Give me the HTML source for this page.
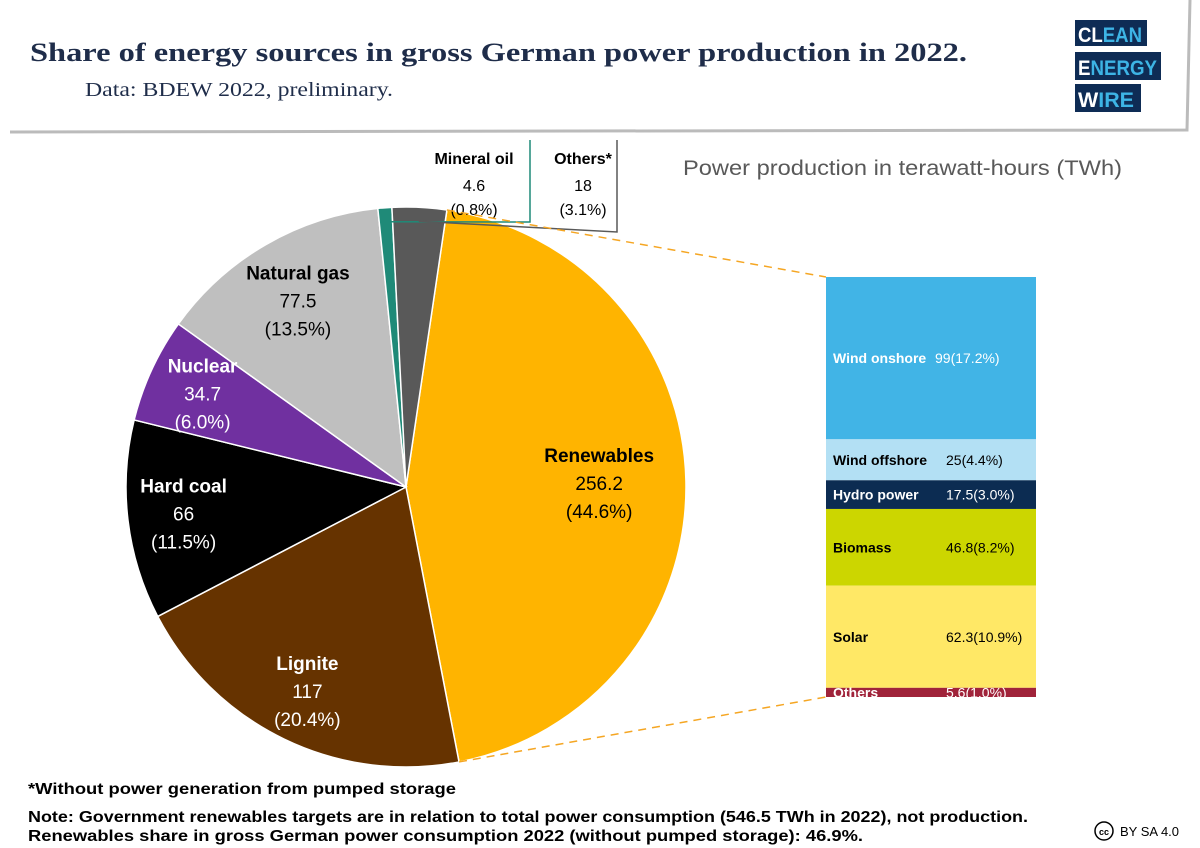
<!DOCTYPE html>
<html><head><meta charset="utf-8"><style>
body{margin:0;width:1200px;height:848px;background:#fff;overflow:hidden;font-family:"Liberation Sans",sans-serif}
svg{position:absolute;left:0;top:0}
</style></head><body>
<svg id="c" width="1200" height="848">
<polyline points="10,132 1187,130 1190,0" fill="none" stroke="#bbb" stroke-width="3"/>
<text x="30" y="61" font-family="Liberation Serif" font-weight="bold" font-size="26" fill="#1f2d4a" textLength="937" lengthAdjust="spacingAndGlyphs">Share of energy sources in gross German power production in 2022.</text>
<text x="85" y="96" font-family="Liberation Serif" font-size="20" fill="#1f2d4a" textLength="308" lengthAdjust="spacingAndGlyphs">Data: BDEW 2022, preliminary.</text>
<g font-weight="bold" font-size="21">
<rect x="1075" y="20" width="72" height="26" fill="#0e2c55"/><text x="1078" y="42" fill="#fff" textLength="64" lengthAdjust="spacingAndGlyphs">CL<tspan fill="#3db4e5">EAN</tspan></text>
<rect x="1075" y="52" width="86" height="28" fill="#0e2c55"/><text x="1078" y="75" fill="#fff" textLength="79" lengthAdjust="spacingAndGlyphs">E<tspan fill="#3db4e5">NERGY</tspan></text>
<rect x="1075" y="84" width="66" height="28" fill="#0e2c55"/><text x="1078" y="107" fill="#fff" textLength="56" lengthAdjust="spacingAndGlyphs">W<tspan fill="#3db4e5">IRE</tspan></text>
</g>
<text x="683" y="175" font-size="21" fill="#595959" textLength="439" lengthAdjust="spacingAndGlyphs">Power production in terawatt-hours (TWh)</text>
<g id="pie"></g>
<g id="bar"></g>
<text x="28" y="794" font-size="16" font-weight="bold" fill="#000" textLength="428" lengthAdjust="spacingAndGlyphs">*Without power generation from pumped storage</text>
<text x="28" y="822" font-size="16" font-weight="bold" fill="#000" textLength="1000" lengthAdjust="spacingAndGlyphs">Note: Government renewables targets are in relation to total power consumption (546.5 TWh in 2022), not production.</text>
<text x="28" y="841" font-size="16" font-weight="bold" fill="#000" textLength="835" lengthAdjust="spacingAndGlyphs">Renewables share in gross German power consumption 2022 (without pumped storage): 46.9%.</text>
<g><circle cx="1104" cy="831" r="9" fill="none" stroke="#000" stroke-width="1.5"/><text x="1104" y="835" font-size="9" font-weight="bold" text-anchor="middle">cc</text><text x="1120" y="836" font-size="13">BY SA 4.0</text></g>
</svg>
<script>
const pieLabels=["Renewables","Lignite","Hard coal","Nuclear","Natural gas","Mineral oil","Others*"];
const pieValues=[256.2,117,66,34.7,77.5,4.6,18];
const piePercents=["44.6%","20.4%","11.5%","6.0%","13.5%","0.8%","3.1%"];
const pieColors=["#ffb400","#663300","#000000","#7030a0","#bfbfbf","#1f8a78","#595959"];
const barLabels=["Wind onshore","Wind offshore","Hydro power","Biomass","Solar","Others"];
const barValues=[99,25,17.5,46.8,62.3,5.6];
const barPercents=["17.2%","4.4%","3.0%","8.2%","10.9%","1.0%"];
const barColors=["#41b4e6","#b3e0f4","#0c2c52","#ccd600","#ffe866","#a0233a"];
const NS="http://www.w3.org/2000/svg";
function mk(p,t,a){const e=document.createElementNS(NS,t);for(const k in a)e.setAttribute(k,a[k]);p.appendChild(e);return e;}
const cx=406,cy=487,R=280,start=8.4;
const tot=pieValues.reduce((a,b)=>a+b,0);
const pt=(deg,r)=>[cx+r*Math.sin(deg*Math.PI/180),cy-r*Math.cos(deg*Math.PI/180)];
const pie=document.getElementById('pie');
let a=start;const angs=[];
pieValues.forEach((v,i)=>{
 const s=a,e=a+v/tot*360;angs.push([s,e]);a=e;
 const p1=pt(s,R),p2=pt(e,R);
 const sl=mk(pie,'path',{d:`M${cx},${cy}L${p1[0]},${p1[1]}A${R},${R} 0 ${e-s>180?1:0} 1 ${p2[0]},${p2[1]}Z`,fill:pieColors[i],stroke:'#fff','stroke-width':1.5});
 
 
});
const inner=[0,1,2,3,4];
const txtColor=["#000","#fff","#fff","#fff","#000"];
const lr=[0.69,0.81,0.8,0.8,0.77];
inner.forEach(i=>{
 const m=(angs[i][0]+angs[i][1])/2;const p=pt(m,R*lr[i]);
 const g=mk(pie,'g',{});
 
 
 const c=txtColor[i];
 mk(g,'text',{x:p[0],y:p[1]-21,'text-anchor':'middle','font-size':19,'font-weight':'bold',fill:c}).textContent=pieLabels[i];
 mk(g,'text',{x:p[0],y:p[1]+7,'text-anchor':'middle','font-size':19,fill:c}).textContent=pieValues[i];
 mk(g,'text',{x:p[0],y:p[1]+35,'text-anchor':'middle','font-size':19,fill:c}).textContent='('+piePercents[i]+')';
});
[[5,474,530,'#1f8a78',222],[6,583,617,'#595959',232]].forEach(([i,x,lx,col,ly])=>{
 const g=mk(pie,'g',{});
 
 
 mk(g,'text',{x:x,y:164,'text-anchor':'middle','font-size':16,'font-weight':'bold',fill:'#000'}).textContent=pieLabels[i];
 mk(g,'text',{x:x,y:191,'text-anchor':'middle','font-size':16,fill:'#000'}).textContent=pieValues[i];
 mk(g,'text',{x:x,y:215,'text-anchor':'middle','font-size':16,fill:'#000'}).textContent='('+piePercents[i]+')';
 const m=(angs[i][0]+angs[i][1])/2;const p=pt(m,R*0.95);
 mk(g,'polyline',{points:`${lx},140 ${lx},${ly} ${p[0]},${p[1]}`,fill:'none',stroke:col,'stroke-width':1.5});
});
const bar=document.getElementById('bar');
const bx=826,bw=210,by=277,sc=420/barValues.reduce((a,b)=>a+b,0);
const barTxt=["#fff","#000","#fff","#000","#000","#fff"];
let y=by;
barValues.forEach((v,i)=>{
 const h=v*sc;
 const r=mk(bar,'rect',{x:bx,y:y,width:bw,height:h,fill:barColors[i]});
 
 
 const ty=y+h/2+5;
 const t1=mk(bar,'text',{x:bx+7,y:ty,'font-size':14,'font-weight':'bold',fill:barTxt[i]});t1.textContent=barLabels[i];
 
 
 const t2=mk(bar,'text',{x:i==0?bx+109:bx+120,y:ty,'font-size':14,fill:barTxt[i]});t2.textContent=v+'('+barPercents[i]+')';
 
 
 y+=h;
});
const pa=pt(angs[0][0],R),pb=pt(angs[0][1],R);
[[pa,[bx,by]],[pb,[bx,y]]].forEach(([p,q])=>{
 const l=mk(bar,'line',{x1:p[0],y1:p[1],x2:q[0],y2:q[1],stroke:'#f5a623','stroke-width':1.5,'stroke-dasharray':'8,6'});
 
 
});
</script>
</body></html>
